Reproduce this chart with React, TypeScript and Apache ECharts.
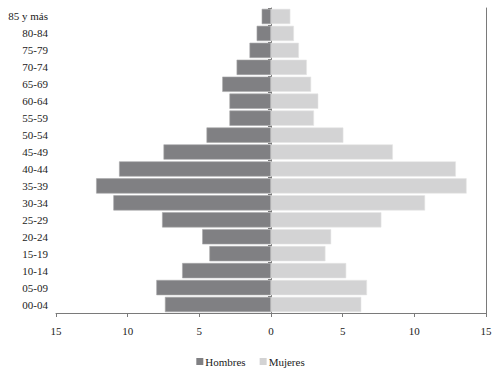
import React, { useEffect, useRef } from "react";
import * as echarts from "echarts";

const categories = [
  "00-04", "05-09", "10-14", "15-19", "20-24", "25-29", "30-34", "35-39", "40-44",
  "45-49", "50-54", "55-59", "60-64", "65-69", "70-74", "75-79", "80-84", "85 y más",
];
const hombres = [7.4, 8.0, 6.2, 4.3, 4.8, 7.6, 11.0, 12.2, 10.6, 7.5, 4.5, 2.9, 2.9, 3.4, 2.4, 1.5, 1.0, 0.65];
const mujeres = [6.3, 6.7, 5.25, 3.8, 4.2, 7.7, 10.75, 13.65, 12.9, 8.5, 5.05, 3.0, 3.3, 2.8, 2.5, 1.95, 1.6, 1.35];
const xTicks = [-15, -10, -5, 0, 5, 10, 15];

const FONT = "Liberation Serif";

export default function App() {
  const ref = useRef<HTMLDivElement>(null);
  useEffect(() => {
    if (!ref.current) return;
    const chart = echarts.init(ref.current, null, { renderer: "svg" });
    chart.setOption({
      animation: false,
      textStyle: { fontFamily: FONT },
      grid: { left: 56, right: 15, top: 8, bottom: 56 },
      legend: {
        bottom: -3,
        left: "center",
        icon: "rect",
        itemWidth: 7,
        itemHeight: 7,
        itemGap: 14,
        itemStyle: { borderWidth: 0 },
        textStyle: { fontFamily: FONT, fontSize: 11, color: "#222", padding: [0, 0, 0, -3] },
        data: ["Hombres", "Mujeres"],
      },
      xAxis: {
        type: "value",
        min: xTicks[0],
        max: xTicks[xTicks.length - 1],
        interval: 5,
        axisLine: { show: true, lineStyle: { color: "#7a7a7a", width: 1 } },
        axisTick: { show: true, length: 4, lineStyle: { color: "#7a7a7a" } },
        splitLine: { show: false },
        axisLabel: {
          margin: 12,
          fontFamily: FONT,
          fontSize: 11,
          color: "#222",
          formatter: (v: number) => String(Math.abs(v)),
        },
      },
      yAxis: [
        {
          type: "category",
          data: categories,
          position: "left",
          axisLine: { show: true, lineStyle: { color: "#7a7a7a", width: 1 } },
          axisTick: { show: true, length: 3, alignWithLabel: false, lineStyle: { color: "#7a7a7a" } },
          axisLabel: { margin: 8, fontFamily: FONT, fontSize: 11, color: "#222" },
        },
        {
          type: "category",
          data: categories,
          position: "right",
          axisLine: { show: true, lineStyle: { color: "#7a7a7a", width: 1 } },
          axisTick: { show: false },
          axisLabel: { show: false },
        },
      ],
      series: [
        {
          name: "Hombres",
          type: "bar",
          stack: "total",
          data: hombres.map((v) => -v),
          barCategoryGap: "10%",
          itemStyle: { color: "#808083", borderColor: "#a8a8aa", borderWidth: 0.6 },
        },
        {
          name: "Mujeres",
          type: "bar",
          stack: "total",
          data: mujeres,
          barCategoryGap: "10%",
          itemStyle: { color: "#d3d3d4", borderColor: "#e6e6e6", borderWidth: 0.6 },
        },
      ],
    });
    return () => chart.dispose();
  }, []);
  return <div ref={ref} style={{ width: 501, height: 369, position: "absolute", left: 0, top: 0, background: "#fff" }} />;
}
